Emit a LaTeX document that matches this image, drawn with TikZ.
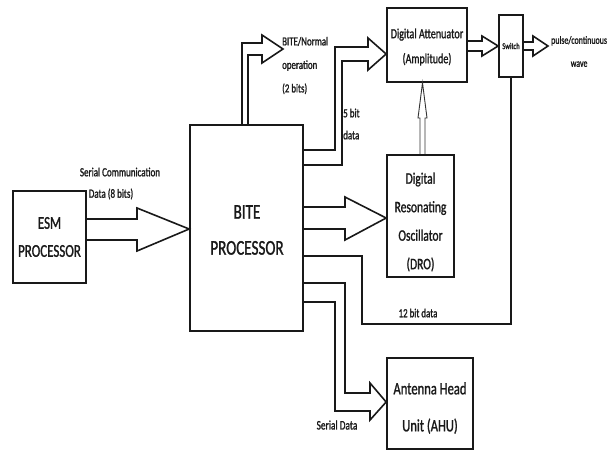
\documentclass[tikz,border=0pt]{standalone}
\usepackage{fontspec}
\setmainfont{Carlito}[FakeStretch=0.72, FakeBold=1.2]
\begin{document}
\begin{tikzpicture}[x=1pt,y=-1pt,line join=miter,
  ln/.style={line width=1.6pt, draw=black!90},
  thin ln/.style={line width=0.9pt, draw=black!80},
  box/.style={draw=black!90, line width=1.7pt, inner sep=0pt},
  fs/.style n args={2}{font=\fontsize{#1}{#2}\selectfont, inner sep=0pt, text=black!90}]
\useasboundingbox[fill=white] (0,0) rectangle (611,451);
% boxes
\node[box, minimum width=73pt, minimum height=92pt] (esm) at (49.5,237) {};
\node[box, minimum width=113pt, minimum height=206pt] (bite) at (246.5,228) {};
\node[box, minimum width=80pt, minimum height=74pt] (att) at (427,45) {};
\node[box, minimum width=24pt, minimum height=62pt] (sw) at (511,46) {};
\node[box, minimum width=67pt, minimum height=122pt] (dro) at (420.5,216) {};
\node[box, minimum width=86pt, minimum height=91pt] (ahu) at (430,403.5) {};
% box texts
\node[fs={18}{28}, align=center] (esmt) at (49.5,237) {ESM\\PROCESSOR};
\node[fs={21}{36}, align=center] (bitet) at (247,230) {BITE\\PROCESSOR};
\node[fs={14}{25}, align=center] (attt) at (427,47) {Digital Attenuator\\(Amplitude)};
\node[fs={9}{10}] (swt) at (511,46) {Switch};
\node[fs={16}{28.5}, align=center] (drot) at (420.5,222) {Digital\\Resonating\\Oscillator\\(DRO)};
\node[fs={17.5}{37}, align=center] (ahut) at (430,408) {Antenna Head\\Unit (AHU)};
\coordinate (out) at (548,46);
% ESM -> BITE
\draw[ln] (esm.east |- 0,219) -- (137,219) -- (137,208) -- (bite.west |- 0,229) -- (137,251) -- (137,240) -- (esm.east |- 0,240);
% BITE/Normal
\draw[ln] (bite.north -| 242,0) -- (242,43) -- (262,43) -- (262,35) -- (283,49) -- (262,63) -- (262,55) -- (248,55) -- (bite.north -| 248,0);
% 5 bit
\draw[ln] (bite.east |- 0,150) -- (335,150) -- (335,47) -- (368,47) -- (368,38) -- (att.west |- 0,54) -- (368,70) -- (368,61) -- (342,61) -- (342,165) -- (bite.east |- 0,165);
% DRO -> attenuator
\draw[thin ln] (dro.north -| 420,0) -- (420,118) -- (418,118) -- (att.south -| 422.5,0) -- (427,118) -- (425,118) -- (dro.north -| 425,0);
% BITE -> DRO
\draw[ln] (bite.east |- 0,207) -- (345,207) -- (345,197) -- (dro.west |- 0,218) -- (345,240) -- (345,229) -- (bite.east |- 0,229);
% attenuator -> switch
\draw[ln] (att.east |- 0,41) -- (482,41) -- (482,36) -- (sw.west |- 0,46) -- (482,56) -- (482,51) -- (att.east |- 0,51);
% switch -> out
\draw[ln] (sw.east |- 0,42) -- (533,42) -- (533,36) -- (out) -- (533,56) -- (533,50) -- (sw.east |- 0,50);
% 12 bit
\draw[ln] (bite.east |- 0,256) -- (362,256) -- (362,324) -- (sw.south |- 0,324) -- (sw.south);
% AHU
\draw[ln] (bite.east |- 0,283) -- (345,283) -- (345,393) -- (370,393) -- (370,383) -- (ahu.west |- 0,402) -- (370,420) -- (370,411) -- (335,411) -- (335,302) -- (bite.east |- 0,302);
% labels
\node[fs={12.5}{14}] (sc1) at (120,172) {Serial Communication};
\node[fs={12.5}{14}] (sc2) at (111,194) {Data (8 bits)};
\node[fs={12.3}{23.5}, align=left, anchor=west] (bn) at (282,65.5) {BITE/Normal\\operation\\(2 bits)};
\node[fs={12.5}{22}, align=left, anchor=west] (fb) at (343,124) {5 bit\\data};
\node[fs={12.4}{14}] (tb) at (418,313) {12 bit data};
\node[fs={13}{14}] (sd) at (337,425) {Serial Data};
\node[fs={11}{23}, align=center, anchor=west] (pw) at (551,51.5) {pulse/continuous\\wave};
\end{tikzpicture}
\end{document}
